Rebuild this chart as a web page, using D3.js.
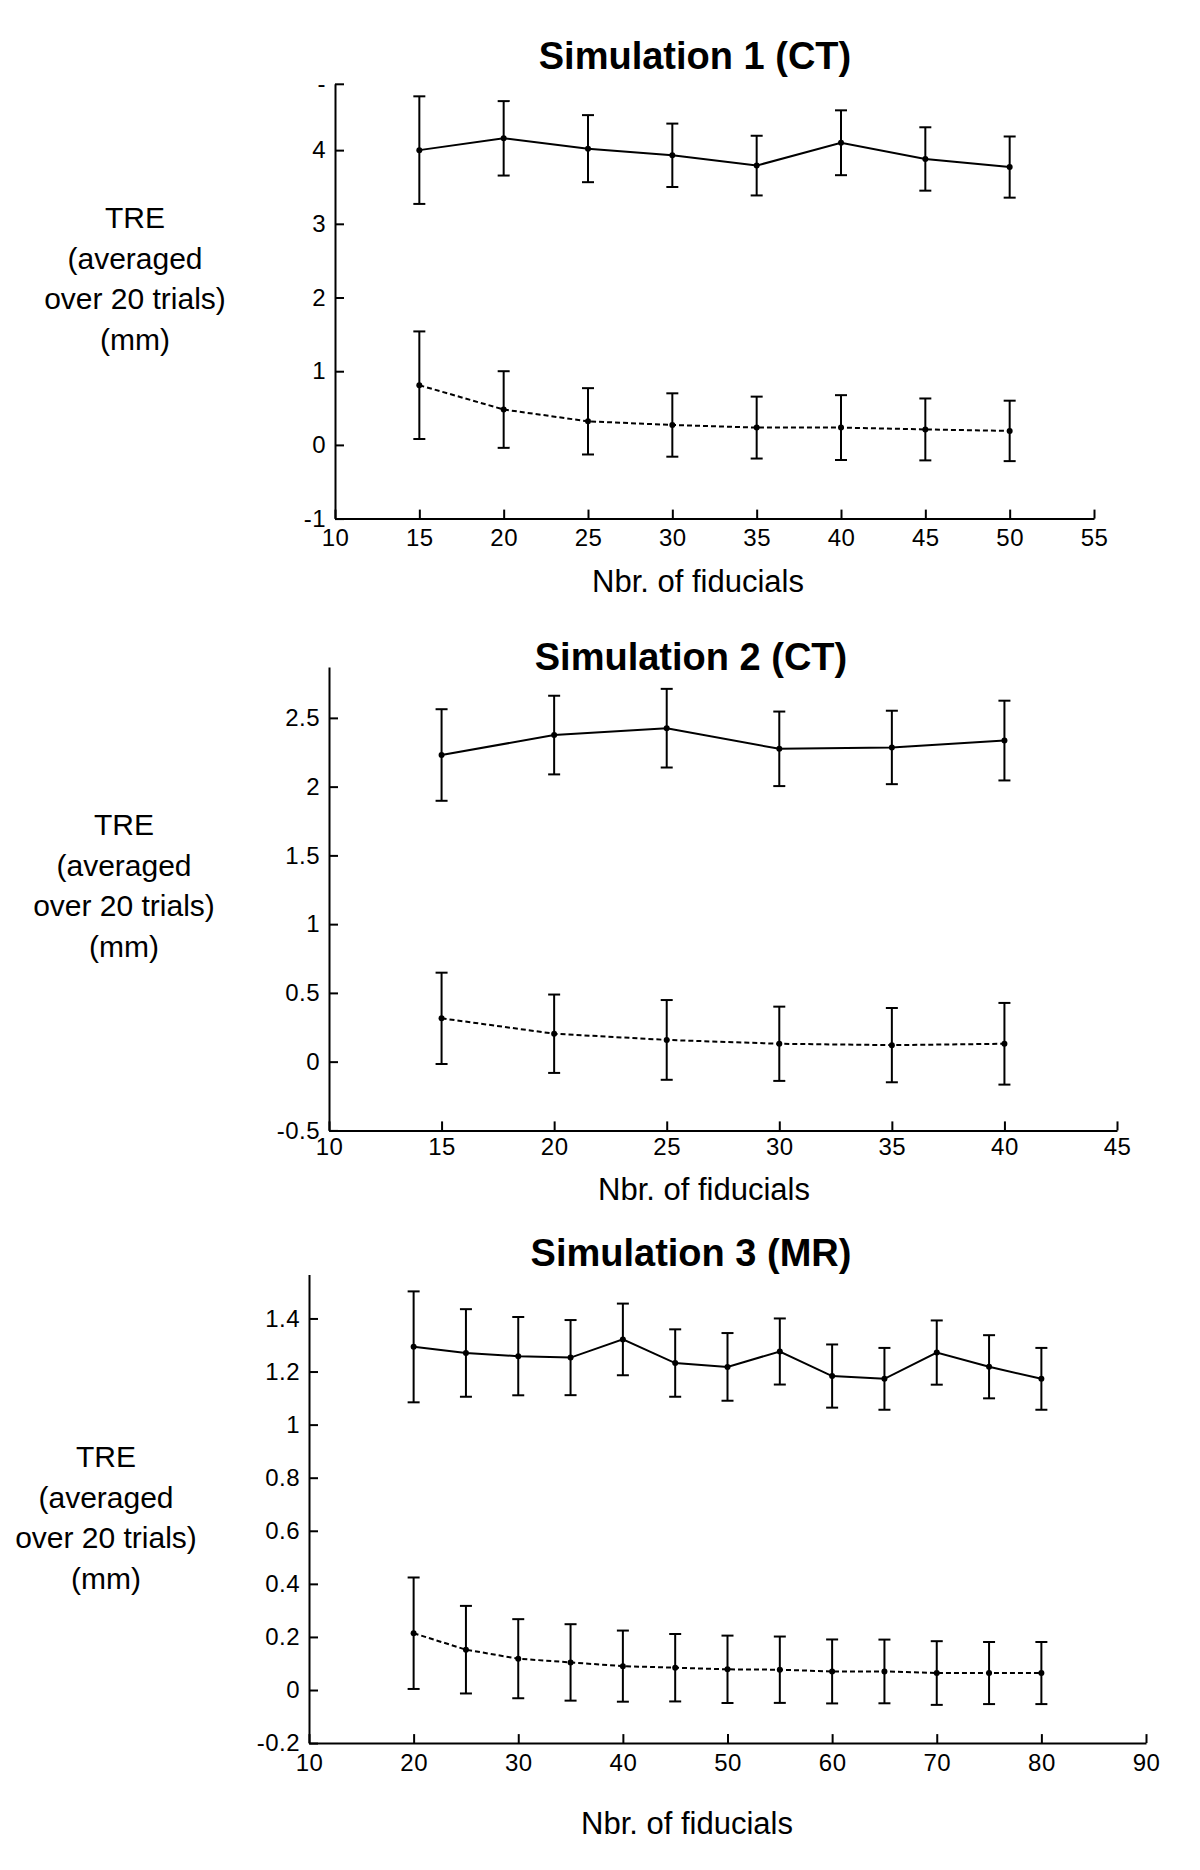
<!DOCTYPE html>
<html><head><meta charset="utf-8">
<script src="https://cdn.jsdelivr.net/npm/d3@7"></script>
<style>
body{margin:0;background:#fff;}
svg text{font-family:"Liberation Sans",Arial,sans-serif;fill:#000;}
</style></head>
<body><svg id="c" width="1200" height="1870"></svg>
<script>
// ---- Data ----
const titles = ["Simulation 1 (CT)", "Simulation 2 (CT)", "Simulation 3 (MR)"];
const yLabelLines = ["TRE", "(averaged", "over 20 trials)", "(mm)"];
const xLabel = "Nbr. of fiducials";

const xs1 = [15, 20, 25, 30, 35, 40, 45, 50];
const solid1 = [4.00, 4.16, 4.02, 3.93, 3.79, 4.10, 3.88, 3.77];
const solid1Err = [0.73, 0.505, 0.455, 0.43, 0.405, 0.44, 0.43, 0.415];
const dashed1 = [0.81, 0.48, 0.32, 0.27, 0.235, 0.235, 0.21, 0.19];
const dashed1Err = [0.73, 0.52, 0.45, 0.43, 0.42, 0.44, 0.42, 0.41];
const xTicks1 = [10, 15, 20, 25, 30, 35, 40, 45, 50, 55];
const yTicks1 = [-1, 0, 1, 2, 3, 4, 4.9];
const yTickLabels1 = ["-1", "0", "1", "2", "3", "4", "-"];

const xs2 = [15, 20, 25, 30, 35, 40];
const solid2 = [2.23, 2.375, 2.425, 2.275, 2.285, 2.335];
const solid2Err = [0.333, 0.286, 0.286, 0.271, 0.267, 0.29];
const dashed2 = [0.315, 0.203, 0.158, 0.13, 0.12, 0.13];
const dashed2Err = [0.332, 0.285, 0.29, 0.27, 0.27, 0.297];
const xTicks2 = [10, 15, 20, 25, 30, 35, 40, 45];
const yTicks2 = [-0.5, 0, 0.5, 1, 1.5, 2, 2.5];
const yTickLabels2 = ["-0.5", "0", "0.5", "1", "1.5", "2", "2.5"];

const xs3 = [20, 25, 30, 35, 40, 45, 50, 55, 60, 65, 70, 75, 80];
const solid3 = [1.293, 1.27, 1.258, 1.2525, 1.321, 1.232, 1.2175, 1.2755, 1.183, 1.1725, 1.2715, 1.218, 1.1725];
const solid3Err = [0.209, 0.165, 0.1475, 0.1415, 0.135, 0.127, 0.1275, 0.1245, 0.119, 0.1165, 0.121, 0.119, 0.1165];
const dashed3 = [0.214, 0.152, 0.118, 0.104, 0.09, 0.084, 0.078, 0.0765, 0.07, 0.07, 0.064, 0.064, 0.064];
const dashed3Err = [0.21, 0.165, 0.149, 0.144, 0.134, 0.127, 0.127, 0.125, 0.1205, 0.12, 0.12, 0.117, 0.117];
const xTicks3 = [10, 20, 30, 40, 50, 60, 70, 80, 90];
const yTicks3 = [-0.2, 0, 0.2, 0.4, 0.6, 0.8, 1, 1.2, 1.4];
const yTickLabels3 = ["-0.2", "0", "0.2", "0.4", "0.6", "0.8", "1", "1.2", "1.4"];

// ---- Layout ----
const panels = [
  {title: titles[0], titleXY: [695, 69], xLabXY: [698, 592], yLabX: 135, yLabY0: 228,
   xDom: [10, 55], xRange: [335, 1094], yDom: [-1, 4.9], yRange: [518.6, 83.8],
   xTicks: xTicks1, yTicks: yTicks1, yTickLabels: yTickLabels1, xPad: 10,
   series: [{xs: xs1, m: solid1, e: solid1Err, dash: null}, {xs: xs1, m: dashed1, e: dashed1Err, dash: "5,3"}]},
  {title: titles[1], titleXY: [691, 670], xLabXY: [704, 1200], yLabX: 124, yLabY0: 835,
   xDom: [10, 45], xRange: [329, 1117], yDom: [-0.5, 2.87], yRange: [1130.4, 667],
   xTicks: xTicks2, yTicks: yTicks2, yTickLabels: yTickLabels2, xPad: 8,
   series: [{xs: xs2, m: solid2, e: solid2Err, dash: null}, {xs: xs2, m: dashed2, e: dashed2Err, dash: "5,3"}]},
  {title: titles[2], titleXY: [691, 1266], xLabXY: [687, 1834], yLabX: 106, yLabY0: 1467,
   xDom: [10, 90], xRange: [309, 1146], yDom: [-0.2, 1.566], yRange: [1743.1, 1274.4],
   xTicks: xTicks3, yTicks: yTicks3, yTickLabels: yTickLabels3, xPad: 11,
   series: [{xs: xs3, m: solid3, e: solid3Err, dash: null}, {xs: xs3, m: dashed3, e: dashed3Err, dash: "5,3"}]}
];

const svg = d3.select("#c");
const tickFont = "'Liberation Sans Narrow','Arial Narrow','Liberation Sans',Arial,sans-serif";

panels.forEach(p => {
  const x = d3.scaleLinear().domain(p.xDom).range(p.xRange);
  const y = d3.scaleLinear().domain(p.yDom).range(p.yRange);
  const g = svg.append("g");

  // axes
  const xa = g.append("g").attr("transform", `translate(0,${p.yRange[0]})`)
    .call(d3.axisBottom(x).tickValues(p.xTicks).tickSizeInner(-9).tickSizeOuter(0).tickPadding(p.xPad).tickFormat(d3.format("d")));
  const ya = g.append("g").attr("transform", `translate(${p.xRange[0]},0)`)
    .call(d3.axisLeft(y).tickValues(p.yTicks).tickSizeInner(-9).tickSizeOuter(0).tickPadding(9)
      .tickFormat((d, i) => p.yTickLabels[i]));
  [xa, ya].forEach(a => {
    a.select(".domain").attr("stroke", "#000").attr("stroke-width", 2);
    a.selectAll(".tick line").attr("stroke", "#000").attr("stroke-width", 2);
    a.selectAll(".tick text").attr("font-size", 24).attr("font-family", tickFont)
      .attr("letter-spacing", "0.5px").attr("fill", "#000");
  });

  // series
  p.series.forEach(s => {
    const pts = s.xs.map((v, i) => ({x: v, m: s.m[i], e: s.e[i]}));
    const line = d3.line().x(d => x(d.x)).y(d => y(d.m));
    g.append("path").datum(pts).attr("d", line).attr("fill", "none")
      .attr("stroke", "#000").attr("stroke-width", 2)
      .attr("stroke-dasharray", s.dash);
    const eb = g.append("g").attr("stroke", "#000").attr("stroke-width", 2);
    pts.forEach(d => {
      const cx = x(d.x), y1 = y(d.m + d.e), y2 = y(d.m - d.e);
      eb.append("line").attr("x1", cx).attr("x2", cx).attr("y1", y1).attr("y2", y2);
      eb.append("line").attr("x1", cx - 6).attr("x2", cx + 6).attr("y1", y1).attr("y2", y1);
      eb.append("line").attr("x1", cx - 6).attr("x2", cx + 6).attr("y1", y2).attr("y2", y2);
    });
    g.selectAll(null).data(pts).enter().append("circle")
      .attr("cx", d => x(d.x)).attr("cy", d => y(d.m)).attr("r", 3).attr("fill", "#000");
  });

  // title
  g.append("text").attr("x", p.titleXY[0]).attr("y", p.titleXY[1]).attr("text-anchor", "middle")
    .attr("font-size", 38).attr("font-weight", "bold").text(p.title);
  // x label
  g.append("text").attr("x", p.xLabXY[0]).attr("y", p.xLabXY[1]).attr("text-anchor", "middle")
    .attr("font-size", 31).text(xLabel);
  // y label
  yLabelLines.forEach((t, i) => {
    g.append("text").attr("x", p.yLabX).attr("y", p.yLabY0 + i * 40.5).attr("text-anchor", "middle")
      .attr("font-size", 30).text(t);
  });
});
</script></body></html>
